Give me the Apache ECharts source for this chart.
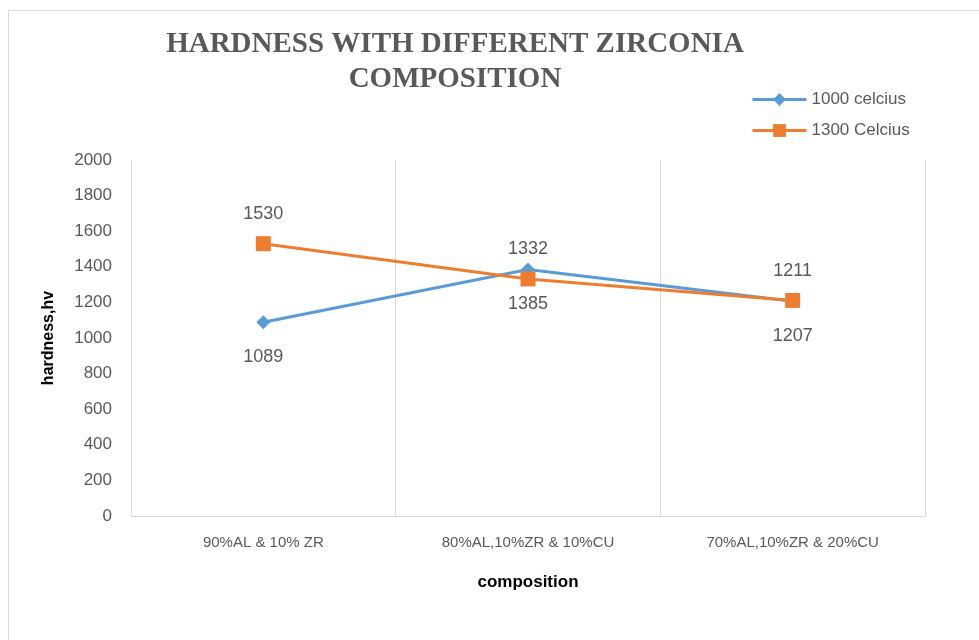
<!DOCTYPE html>
<html>
<head>
<meta charset="utf-8">
<script src="https://cdn.jsdelivr.net/npm/echarts@6/dist/echarts.min.js"></script>
<style>
  html, body { margin: 0; padding: 0; background: #fff; }
  #chart { width: 979px; height: 640px; }
</style>
</head>
<body>
<div id="chart"></div>
<script>
// hardness vs composition, line chart
const categories = ['90%AL & 10% ZR', '80%AL,10%ZR & 10%CU', '70%AL,10%ZR & 20%CU']
const seriesNames = ['1000 celcius', '1300 Celcius']
const hardness1000 = [1089, 1385, 1207]
const hardness1300 = [1530, 1332, 1211]

const gray = '#595959'
const chart = echarts.init(document.getElementById('chart'))

let option = {
  animation: false,
  title: {
    text: 'HARDNESS WITH DIFFERENT ZIRCONIA\nCOMPOSITION',
    left: 450,
    top: 22,
    textAlign: 'center',
    textStyle: {
      fontFamily: 'Liberation Serif',
      fontWeight: 'bold',
      fontSize: 29,
      lineHeight: 35,
      color: gray
    }
  },
  legend: {
    orient: 'vertical',
    left: 746,
    top: 86,
    itemWidth: 54,
    itemHeight: 16,
    itemGap: 14,
    lineStyle: { width: 3 },
    textStyle: { fontFamily: 'Liberation Sans', fontSize: 17, color: gray },
    data: seriesNames
  },
  graphic: [{
    type: 'rect',
    shape: { x: 8.5, y: 10.5, width: 1000, height: 700 },
    style: { fill: 'none', stroke: '#d9d9d9', lineWidth: 1 },
    silent: true
  }],
  grid: { left: 131, right: 54, top: 160, bottom: 124 },
  xAxis: {
    type: 'category',
    data: categories,
    boundaryGap: true,
    name: 'composition',
    nameLocation: 'middle',
    nameGap: 58,
    nameTextStyle: { fontFamily: 'Liberation Sans', fontWeight: 'bold', fontSize: 17, color: '#000' },
    axisLine: { lineStyle: { color: '#d9d9d9', width: 1 } },
    axisTick: { show: false },
    axisLabel: { fontFamily: 'Liberation Sans', fontSize: 15, color: gray, margin: 19 },
    splitLine: { show: true, lineStyle: { color: '#d9d9d9', width: 1 } }
  },
  yAxis: {
    type: 'value',
    min: 0,
    max: 2000,
    interval: 200,
    name: 'hardness,hv',
    nameLocation: 'middle',
    nameGap: 74,
    nameTextStyle: { fontFamily: 'Liberation Sans', fontWeight: 'bold', fontSize: 16, color: '#000' },
    axisLine: { show: false },
    axisTick: { show: false },
    axisLabel: {
      fontFamily: 'Liberation Sans',
      fontSize: 17,
      color: gray,
      margin: 19,
      formatter: function (v) { return String(v) }
    },
    splitLine: { show: false }
  },
  series: [
    {
      name: seriesNames[0],
      type: 'line',
      data: hardness1000,
      symbol: 'diamond',
      symbolSize: 14,
      itemStyle: { color: '#5b9bd5' },
      lineStyle: { width: 3, color: '#5b9bd5' },
      label: {
        show: true,
        position: 'bottom',
        distance: 19,
        fontFamily: 'Liberation Sans',
        fontSize: 18,
        color: gray
      }
    },
    {
      name: seriesNames[1],
      type: 'line',
      data: hardness1300,
      symbol: 'rect',
      symbolSize: 15,
      itemStyle: { color: '#ed7d31' },
      lineStyle: { width: 3, color: '#ed7d31' },
      label: {
        show: true,
        position: 'top',
        distance: 13,
        fontFamily: 'Liberation Sans',
        fontSize: 18,
        color: gray
      }
    }
  ]
}
chart.setOption(option)
</script>
</body>
</html>
